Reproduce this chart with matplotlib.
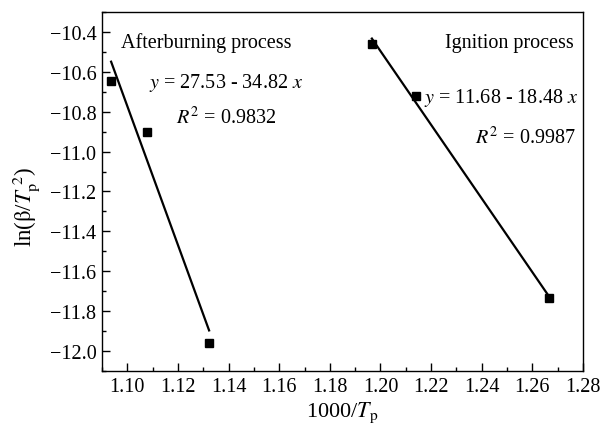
import matplotlib
matplotlib.use('Agg')
import numpy as np
import matplotlib.pyplot as plt
from matplotlib.ticker import MultipleLocator

plt.rcParams.update({
    'font.family': 'serif',
    'font.serif': ['Liberation Serif', 'DejaVu Serif'],
    'mathtext.fontset': 'stix',
    'font.size': 14.5,
    'axes.linewidth': 1.0,
    'xtick.direction': 'in',
    'ytick.direction': 'in',
})

# Afterburning process data and fit
after_x = [1.0936, 1.1078, 1.1323]
after_y = [-10.646, -10.901, -11.958]
after_fit = (27.53, -34.82)

# Ignition process data and fit
ign_x = [1.1966, 1.2141, 1.2665]
ign_y = [-10.46, -10.722, -11.734]
ign_fit = (11.68, -18.48)

fig = plt.figure(figsize=(6.0, 4.31), dpi=100)
ax = fig.add_axes([0.17, 0.137, 0.8017, 0.8328])

for xs, ys, (a, b) in [(after_x, after_y, after_fit), (ign_x, ign_y, ign_fit)]:
    xf = np.array([min(xs), max(xs)])
    ax.plot(xf, a + b * xf, color='black', linewidth=1.6, zorder=2)
    ax.plot(xs, ys, linestyle='none', marker='s', markersize=5.5,
            color='black', zorder=3)

ax.set_xlim(1.09, 1.28)
ax.set_ylim(-12.1, -10.3)
ax.xaxis.set_major_locator(MultipleLocator(0.02))
ax.xaxis.set_minor_locator(MultipleLocator(0.01))
ax.yaxis.set_major_locator(MultipleLocator(0.2))
ax.yaxis.set_minor_locator(MultipleLocator(0.1))
ax.xaxis.set_major_formatter(plt.FuncFormatter(lambda v, p: f'{v:.2f}'))
ax.yaxis.set_major_formatter(plt.FuncFormatter(lambda v, p: f'\u2212{abs(v):.1f}'))
ax.tick_params(which='major', length=6, width=1.0, labelsize=14.5, pad=4)
ax.tick_params(which='minor', length=3, width=1.0)

ax.set_xlabel(r'1000/$T_{\mathrm{p}}$', fontsize=16, labelpad=3)
ax.set_ylabel(r'ln($\mathrm{\beta}$/$T_{\mathrm{p}}^{\ 2}$)', fontsize=16.5)
ax.yaxis.set_label_coords(-0.125, 0.46)

ax.text(0.04, 0.915, 'Afterburning process', transform=ax.transAxes,
        ha='left', va='center')
ax.text(0.098, 0.806, r'$y$ = 27.53 - 34.82 $x$', transform=ax.transAxes,
        ha='left', va='center')
ax.text(0.154, 0.708, r'$R^2$ = 0.9832', transform=ax.transAxes,
        ha='left', va='center')

ax.text(0.98, 0.915, 'Ignition process', transform=ax.transAxes,
        ha='right', va='center')
ax.text(0.99, 0.763, r'$y$ = 11.68 - 18.48 $x$', transform=ax.transAxes,
        ha='right', va='center')
ax.text(0.985, 0.652, r'$R^2$ = 0.9987', transform=ax.transAxes,
        ha='right', va='center')

fig.savefig('out.png', dpi=100, facecolor='white')
